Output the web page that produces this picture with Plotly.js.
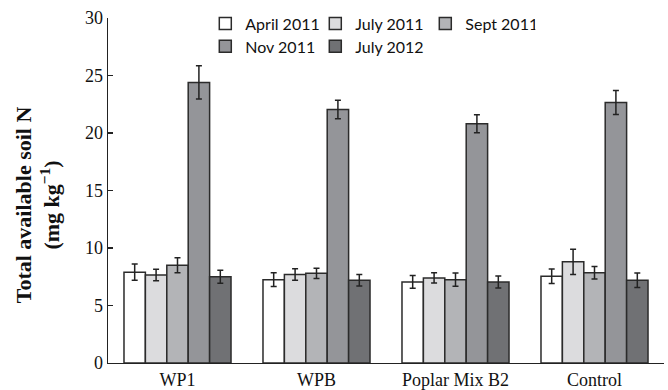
<!DOCTYPE html>
<html>
<head>
<meta charset="utf-8">
<script src="https://cdn.plot.ly/plotly-3.0.1.min.js"></script>
<style>
  html, body { margin: 0; padding: 0; background: #fff; }
  #chart { width: 668px; height: 390px; }
</style>
</head>
<body>
<div id="chart"></div>
<script>
// Sites on the x axis
const sites = ["WP1", "WPB", "Poplar Mix B2", "Control"];

// Sampling dates (one bar series each)
const dates = ["April 2011", "July 2011", "Sept 2011", "Nov 2011", "July 2012"];

// Mean total available soil N (mg kg-1) per date, in site order
const april2011 = [7.9, 7.25, 7.05, 7.55];
const july2011  = [7.65, 7.7, 7.4, 8.8];
const sept2011  = [8.5, 7.8, 7.25, 7.85];
const nov2011   = [24.4, 22.05, 20.8, 22.65];
const july2012  = [7.5, 7.2, 7.05, 7.2];

// Standard errors
const april2011Err = [0.7, 0.6, 0.55, 0.63];
const july2011Err  = [0.5, 0.5, 0.45, 1.1];
const sept2011Err  = [0.65, 0.45, 0.58, 0.55];
const nov2011Err   = [1.45, 0.8, 0.78, 1.05];
const july2012Err  = [0.56, 0.5, 0.52, 0.63];

const yTicks = [0, 5, 10, 15, 20, 25, 30];

const seriesValues = [april2011, july2011, sept2011, nov2011, july2012];
const seriesErrors = [april2011Err, july2011Err, sept2011Err, nov2011Err, july2012Err];
const fills = ["#ffffff", "#dcdcde", "#b3b4b7", "#949599", "#707174"];

const traces = dates.map((name, i) => ({
  type: "bar",
  name: name,
  x: sites,
  y: seriesValues[i],
  legend: i < 3 ? "legend" : "legend2",
  marker: { color: fills[i], line: { color: "#2b2b2b", width: 1.5 } },
  error_y: { type: "data", array: seriesErrors[i], visible: true,
             color: "#222", thickness: 1.5, width: 3 },
  hoverinfo: "x+y+name"
}));

const legendFont = { family: "Lato, 'Open Sans', sans-serif", size: 16, color: "#111" };

const layout = {
  width: 668, height: 390,
  margin: { l: 108, r: 4, t: 18, b: 27, pad: 0 },
  paper_bgcolor: "#fff", plot_bgcolor: "#fff",
  barmode: "group", bargap: 0.23, bargroupgap: 0,
  font: { family: "'Liberation Serif', 'Times New Roman', serif", size: 18, color: "#111" },
  xaxis: {
    type: "category", automargin: false,
    showline: true, linecolor: "#222", linewidth: 1.3,
    ticks: "", showgrid: false, zeroline: false,
    tickfont: { family: "'Liberation Serif', serif", size: 18, color: "#111" }
  },
  yaxis: {
    range: [0, 30], tickvals: yTicks, ticktext: yTicks.map(String), automargin: false,
    showline: true, linecolor: "#222", linewidth: 1.3,
    ticks: "inside", ticklen: 5, tickcolor: "#222", tickwidth: 1.3,
    showgrid: false, zeroline: false,
    tickfont: { family: "'Liberation Serif', serif", size: 18, color: "#111" }
  },
  showlegend: true,
  legend: {
    orientation: "h", xref: "paper", yref: "paper",
    x: 0.175, y: 1.033, xanchor: "left", yanchor: "top",
    entrywidth: 65, traceorder: "normal",
    bgcolor: "rgba(0,0,0,0)", font: legendFont
  },
  legend2: {
    orientation: "h", xref: "paper", yref: "paper",
    x: 0.175, y: 0.967, xanchor: "left", yanchor: "top",
    entrywidth: 65, traceorder: "normal",
    bgcolor: "rgba(0,0,0,0)", font: legendFont
  },
  annotations: [{
    text: "<b>Total available soil N<br>(mg kg<sup>−1</sup>)</b>",
    textangle: -90, showarrow: false,
    xref: "paper", yref: "paper", x: -0.126, y: 0.46,
    xanchor: "center", yanchor: "middle",
    font: { family: "'Liberation Serif', 'Times New Roman', serif", size: 22, color: "#111" }
  }]
};

Plotly.newPlot("chart", traces, layout, { displayModeBar: false, staticPlot: true });
</script>
</body>
</html>
